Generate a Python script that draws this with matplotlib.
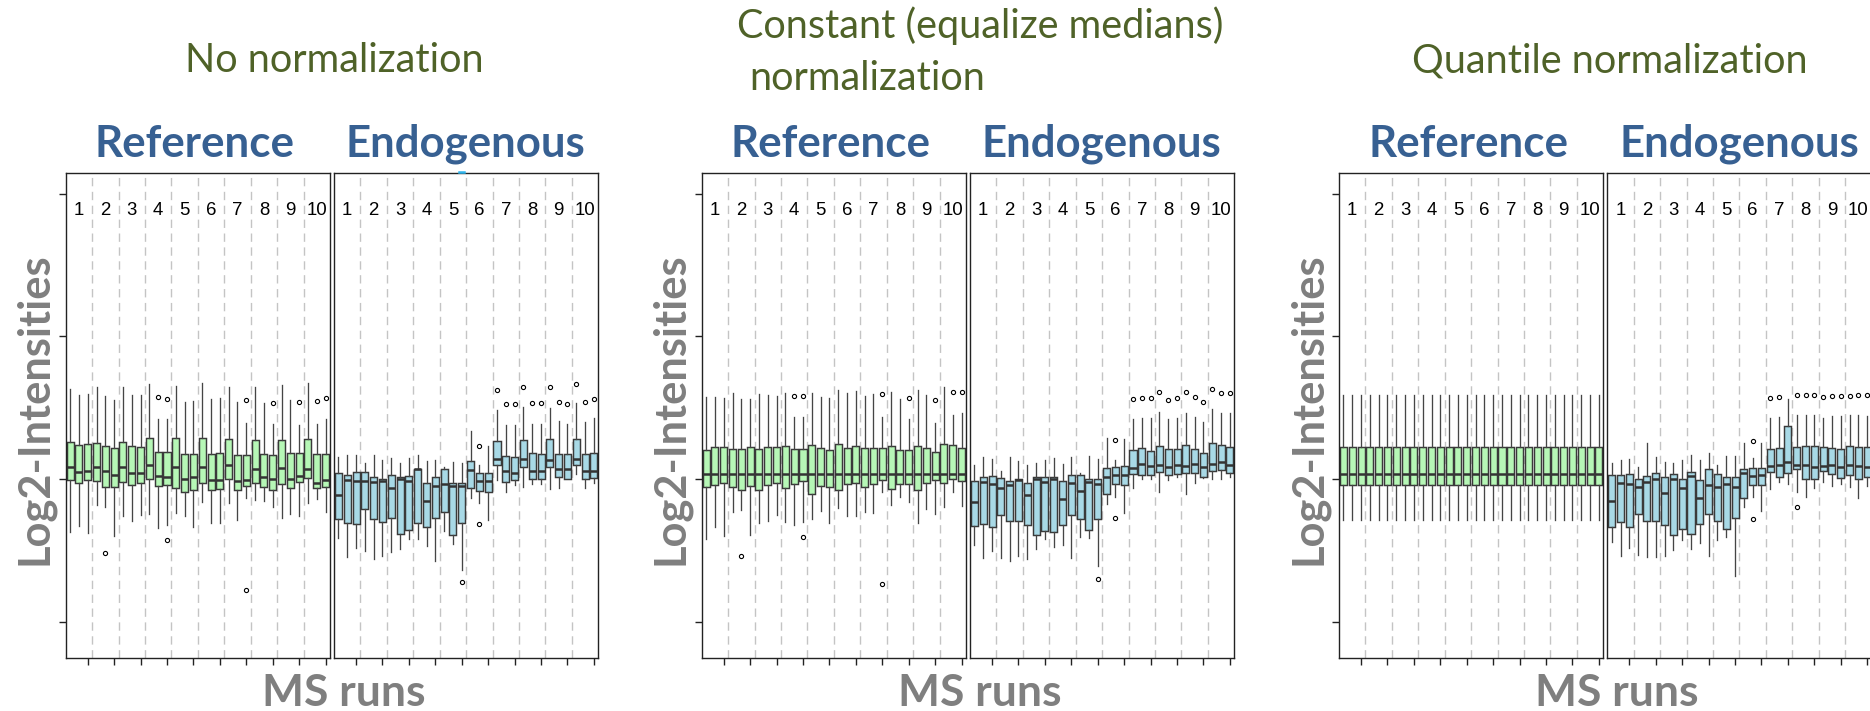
import matplotlib
matplotlib.use("Agg")
import matplotlib.pyplot as plt
from matplotlib.lines import Line2D

W, H = 1870, 711
fig = plt.figure(figsize=(W / 100, H / 100), dpi=100)

RUN_LABELS = [str(i) for i in range(1, 11)]
N_BOX = 30  # 10 MS runs x 3 features

PANEL_TITLES = ["No normalization", "Constant (equalize medians)\n normalization",
                "Quantile normalization"]
GROUPS = ["Reference", "Endogenous"]

# ---------------- No normalization ----------------
none_ref_hi = [23.15, 22.94, 22.97, 23.24, 22.92, 22.78, 23.24, 22.95, 22.94, 23.34,
               22.11, 22.10, 23.27, 22.72, 22.74, 23.36, 22.81, 22.86, 23.24, 22.72,
               21.98, 23.24, 22.66, 21.92, 23.31, 22.76, 21.91, 23.38, 21.95, 22.12]
none_ref_q3 = [21.29, 21.19, 21.25, 21.27, 21.17, 21.10, 21.31, 21.17, 21.14, 21.46,
               20.97, 20.94, 21.43, 20.90, 20.90, 21.46, 20.90, 20.93, 21.40, 20.85,
               20.86, 21.38, 20.90, 20.84, 21.38, 20.91, 20.91, 21.40, 20.90, 20.90]
none_ref_med = [20.44, 20.26, 20.31, 20.42, 20.29, 20.17, 20.45, 20.21, 20.22, 20.50,
                20.12, 20.09, 20.43, 20.02, 20.07, 20.42, 19.98, 19.98, 20.50, 19.95,
                19.98, 20.38, 20.07, 20.02, 20.40, 20.03, 20.13, 20.37, 19.88, 19.99]
none_ref_q1 = [19.98, 19.86, 19.98, 19.95, 19.72, 19.72, 19.90, 19.81, 19.88, 20.00,
               19.77, 19.81, 19.71, 19.55, 19.62, 19.86, 19.62, 19.65, 20.03, 19.62,
               19.76, 19.86, 19.73, 19.64, 19.84, 19.69, 19.90, 20.05, 19.71, 19.74]
none_ref_lo = [18.17, 18.38, 18.13, 19.09, 19.02, 18.02, 18.73, 18.55, 18.74, 18.79,
               18.31, 18.41, 18.82, 18.73, 18.34, 19.22, 18.48, 18.46, 19.16, 18.59,
               19.36, 19.27, 19.24, 19.04, 18.66, 18.79, 18.73, 19.18, 19.31, 18.86]
none_ref_out = {5: [17.41], 11: [22.87], 12: [22.80, 17.88], 21: [22.78, 16.13],
                24: [22.67], 27: [22.69], 29: [22.75], 30: [22.83]}

none_endo_hi = [20.79, 20.84, 20.84, 20.56, 20.86, 20.68, 20.76, 20.58, 20.73, 20.84,
                20.65, 20.66, 20.44, 20.62, 20.56, 21.68, 20.49, 21.18, 22.41, 21.91,
                21.89, 22.52, 21.94, 21.94, 22.50, 22.04, 21.94, 22.66, 22.02, 22.13]
none_endo_q3 = [20.21, 20.15, 20.26, 20.27, 20.07, 20.02, 20.16, 20.10, 20.13, 20.38,
                19.86, 20.07, 20.38, 19.88, 19.88, 20.64, 20.21, 20.24, 21.35, 20.83,
                20.77, 21.38, 20.93, 20.89, 21.40, 20.89, 20.87, 21.42, 20.90, 20.93]
none_endo_med = [19.45, 19.98, 19.94, 19.94, 19.90, 19.95, 19.71, 20.03, 19.95, 20.35,
                 19.23, 19.78, 19.83, 19.76, 19.77, 20.34, 19.94, 19.94, 20.72, 20.29,
                 20.24, 20.70, 20.30, 20.30, 20.68, 20.37, 20.38, 20.71, 20.29, 20.29]
none_endo_q1 = [18.60, 18.48, 18.44, 18.97, 18.62, 18.51, 18.65, 18.09, 18.24, 18.46,
                18.33, 18.65, 18.85, 18.04, 18.48, 19.70, 19.60, 19.57, 20.50, 19.90,
                19.97, 20.43, 20.02, 20.02, 20.44, 20.07, 20.02, 20.49, 20.02, 20.05]
none_endo_lo = [17.96, 17.29, 17.61, 17.48, 17.20, 17.31, 17.45, 17.57, 17.92, 17.91,
                17.66, 17.13, 18.20, 17.75, 16.83, 19.34, 19.17, 18.58, 19.99, 19.57,
                19.81, 19.72, 19.83, 19.85, 19.66, 19.71, 20.00, 20.20, 19.69, 19.87]
none_endo_out = {15: [16.40], 17: [21.17, 18.44], 19: [23.13], 20: [22.64], 21: [22.64],
                 22: [23.23], 23: [22.66], 24: [22.68], 25: [23.24], 26: [22.72],
                 27: [22.65], 28: [23.34], 29: [22.72], 30: [22.82]}

# ---------------- Constant (median) normalization ----------------
const_ref_hi = [22.89, 22.87, 22.83, 23.01, 22.81, 22.80, 22.97, 22.94, 22.92, 23.02,
                22.17, 22.19, 23.01, 22.89, 22.85, 23.11, 23.01, 23.08, 22.93, 22.97,
                22.17, 23.04, 22.80, 22.11, 23.11, 22.94, 21.98, 23.22, 22.26, 22.32]
const_ref_q3 = [21.04, 21.13, 21.13, 21.05, 21.07, 21.12, 21.05, 21.14, 21.12, 21.15,
                21.05, 21.06, 21.19, 21.10, 21.01, 21.24, 21.11, 21.15, 21.08, 21.10,
                21.08, 21.18, 21.03, 21.01, 21.18, 21.08, 20.97, 21.22, 21.20, 21.11]
const_ref_med = [20.19] * N_BOX
const_ref_q1 = [19.73, 19.80, 19.86, 19.73, 19.64, 19.77, 19.64, 19.80, 19.87, 19.70,
                19.84, 19.93, 19.49, 19.76, 19.74, 19.63, 19.83, 19.87, 19.72, 19.85,
                19.98, 19.67, 19.85, 19.83, 19.64, 19.86, 19.97, 19.87, 20.03, 19.94]
const_ref_lo = [17.91, 18.32, 18.02, 18.87, 18.93, 18.05, 18.48, 18.53, 18.74, 18.50,
                18.39, 18.52, 18.61, 18.90, 18.48, 19.01, 18.72, 18.72, 18.85, 18.83,
                19.56, 19.10, 19.37, 19.22, 18.46, 18.96, 18.80, 19.02, 19.57, 19.08]
const_ref_out = {5: [17.32], 11: [22.93], 12: [22.90, 17.98], 21: [22.98, 16.34],
                 24: [22.86], 27: [22.76], 29: [23.07], 30: [23.04]}

const_endo_hi = [20.52, 20.78, 20.71, 20.31, 20.78, 20.65, 20.49, 20.56, 20.68, 20.73,
                 20.54, 20.78, 20.23, 20.82, 20.70, 21.45, 20.69, 21.41, 22.11, 22.16,
                 22.16, 22.34, 22.10, 22.13, 22.31, 22.19, 21.99, 22.47, 22.32, 22.32]
const_endo_q3 = [19.95, 20.08, 20.13, 20.05, 19.95, 20.02, 19.88, 20.07, 20.10, 20.08,
                 19.93, 20.16, 20.14, 20.02, 20.00, 20.41, 20.42, 20.48, 21.04, 21.08,
                 20.98, 21.18, 21.07, 21.07, 21.19, 21.06, 20.93, 21.26, 21.21, 21.12]
const_endo_med = [19.20, 19.92, 19.83, 19.70, 19.79, 19.97, 19.45, 20.00, 19.91, 20.00,
                  19.30, 19.88, 19.58, 19.91, 19.85, 20.09, 20.15, 20.15, 20.40, 20.54,
                  20.47, 20.49, 20.45, 20.49, 20.47, 20.54, 20.45, 20.55, 20.61, 20.49]
const_endo_q1 = [18.36, 18.44, 18.32, 18.74, 18.53, 18.53, 18.39, 18.05, 18.20, 18.16,
                 18.40, 18.74, 18.61, 18.22, 18.61, 19.48, 19.83, 19.79, 20.20, 20.14,
                 20.17, 20.26, 20.14, 20.20, 20.23, 20.24, 20.09, 20.31, 20.34, 20.24]
const_endo_lo = [17.71, 17.24, 17.50, 17.26, 17.13, 17.33, 17.20, 17.56, 17.90, 17.62,
                 17.71, 17.24, 17.97, 17.94, 16.97, 19.13, 19.39, 18.82, 19.70, 20.02,
                 20.03, 19.55, 19.97, 20.09, 19.48, 19.88, 20.06, 20.02, 20.00, 20.08]
const_endo_out = {15: [16.51], 17: [21.39, 18.65], 19: [22.81], 20: [22.86], 21: [22.83],
                  22: [23.04], 23: [22.78], 24: [22.85], 25: [23.04], 26: [22.89],
                  27: [22.71], 28: [23.16], 29: [23.03], 30: [23.02]}

# ---------------- Quantile normalization ----------------
quant_ref_hi = [22.94] * N_BOX
quant_ref_q3 = [21.12] * N_BOX
quant_ref_med = [20.20] * N_BOX
quant_ref_q1 = [19.80] * N_BOX
quant_ref_lo = [18.58] * N_BOX
quant_ref_out = {}

quant_endo_hi = [20.56, 20.69, 20.71, 20.43, 21.26, 20.77, 20.59, 20.58, 20.68, 20.85,
                 20.68, 20.91, 20.51, 20.82, 20.82, 21.27, 20.76, 21.28, 22.15, 22.17,
                 22.81, 22.24, 22.25, 22.24, 22.16, 22.23, 22.20, 22.24, 22.25, 22.23]
quant_endo_q3 = [20.14, 20.15, 20.19, 20.00, 20.12, 20.21, 20.10, 20.19, 20.00, 20.26,
                 19.97, 20.38, 20.20, 20.10, 20.09, 20.35, 20.40, 20.40, 21.07, 21.11,
                 21.88, 21.12, 21.15, 21.15, 21.13, 21.08, 21.07, 21.15, 21.13, 21.14]
quant_endo_med = [19.25, 19.86, 19.83, 19.72, 19.92, 20.03, 19.52, 20.02, 19.71, 20.12,
                  19.34, 19.80, 19.73, 19.83, 19.74, 20.23, 20.12, 20.15, 20.47, 20.52,
                  20.62, 20.52, 20.49, 20.45, 20.48, 20.50, 20.44, 20.52, 20.47, 20.43]
quant_endo_q1 = [18.33, 18.50, 18.32, 18.79, 18.54, 18.55, 18.41, 18.05, 18.27, 18.10,
                 18.43, 18.79, 18.53, 18.26, 18.64, 19.35, 19.81, 19.79, 20.26, 20.10,
                 20.22, 20.36, 20.02, 20.02, 20.29, 20.19, 20.05, 20.16, 20.03, 20.10]
quant_endo_lo = [17.81, 17.33, 17.59, 17.36, 17.27, 17.27, 17.31, 17.52, 17.87, 17.56,
                 17.76, 17.32, 17.87, 17.99, 16.62, 19.03, 19.39, 18.89, 19.67, 19.90,
                 19.84, 19.57, 19.38, 19.69, 19.92, 19.77, 19.84, 19.74, 19.35, 19.78]
quant_endo_out = {17: [21.33, 18.61], 19: [22.85], 20: [22.87], 22: [22.95, 19.03],
                  23: [22.95], 24: [22.96], 25: [22.89], 26: [22.92], 27: [22.90],
                  28: [22.90], 29: [22.94], 30: [22.95]}

PANELS = [
    [(none_ref_lo, none_ref_q1, none_ref_med, none_ref_q3, none_ref_hi, none_ref_out),
     (none_endo_lo, none_endo_q1, none_endo_med, none_endo_q3, none_endo_hi, none_endo_out)],
    [(const_ref_lo, const_ref_q1, const_ref_med, const_ref_q3, const_ref_hi, const_ref_out),
     (const_endo_lo, const_endo_q1, const_endo_med, const_endo_q3, const_endo_hi, const_endo_out)],
    [(quant_ref_lo, quant_ref_q1, quant_ref_med, quant_ref_q3, quant_ref_hi, quant_ref_out),
     (quant_endo_lo, quant_endo_q1, quant_endo_med, quant_endo_q3, quant_endo_hi, quant_endo_out)],
]

# ---------------- layout (pixels) ----------------
PANEL_LEFT = [65.7, 701.7, 1339.0]
SUB_W = 264.3
SUB_GAP = 4.0
AX_TOP, AX_BOT = 172.7, 657.7
YLIM = (13.76, 30.73)
YTICKS = [15, 20, 25, 30]
NUM_Y = 29.42

GREEN = "#b6f7b6"
BLUE = "#a8d9e6"
EDGE = "#3a3a3a"
TITLE_COL = "#4f6228"
GROUP_COL = "#376092"
AXLAB_COL = "#7f7f7f"
BODY_FONT = ["Lato", "DejaVu Sans"]


def make_stats(lo, q1, med, q3, hi, out):
    stats = []
    for i in range(N_BOX):
        stats.append(dict(whislo=lo[i], q1=q1[i], med=med[i], q3=q3[i],
                          whishi=hi[i], fliers=out.get(i + 1, [])))
    return stats


def draw_sub(left, data, face, with_yticks):
    ax = fig.add_axes([left / W, 1 - AX_BOT / H, SUB_W / W, (AX_BOT - AX_TOP) / H])
    ax.set_xlim(0.5, N_BOX + 0.5)
    ax.set_ylim(*YLIM)
    for b in range(1, 10):
        ax.axvline(3 * b + 0.5, color="#c4c4c4", lw=1.0, ls=(0, (6, 4)), zorder=0)
    ax.bxp(make_stats(*data), positions=range(1, N_BOX + 1), widths=0.8,
           patch_artist=True, showcaps=False,
           boxprops=dict(facecolor=face, edgecolor=EDGE, linewidth=1.05),
           medianprops=dict(color="#333333", linewidth=1.8),
           whiskerprops=dict(color="#454545", linewidth=0.95),
           flierprops=dict(marker="o", markersize=3.0, markerfacecolor="none",
                           markeredgecolor="black", markeredgewidth=0.8))
    ax.set_xticks([3 * k for k in range(1, 11)])
    ax.set_xticklabels([])
    if with_yticks:
        ax.set_yticks(YTICKS)
        ax.set_yticklabels([])
        ax.tick_params(axis="y", length=5, width=1, color="#222222")
    else:
        ax.set_yticks([])
    ax.tick_params(axis="x", length=5, width=1, color="#222222")
    for s in ax.spines.values():
        s.set_color("#222222")
        s.set_linewidth(1.0)
    for k, lab in enumerate(RUN_LABELS):
        ax.text(3 * k + 2, NUM_Y, lab, ha="center", va="center", fontsize=13.4,
                family="Liberation Sans", color="black")
    return ax


for p, left in enumerate(PANEL_LEFT):
    draw_sub(left, PANELS[p][0], GREEN, True)
    draw_sub(left + SUB_W + SUB_GAP, PANELS[p][1], BLUE, False)

# small cyan mark sitting on the top edge of the first Endogenous frame
fig.add_artist(Line2D([459 / W, 463.5 / W], [1 - 171.5 / H, 1 - 171.5 / H],
                      color="#2fb4ec", lw=1.8, transform=fig.transFigure))

renderer = fig.canvas.get_renderer()


def fitted(x, y, s, length, size, rotation=0, **kw):
    t = fig.text(x / W, 1 - y / H, s, fontsize=size, rotation=rotation,
                 rotation_mode="anchor", **kw)
    bb = t.get_window_extent(renderer=renderer)
    cur = bb.height if rotation else bb.width
    t.set_fontsize(size * length / cur)
    return t


# panel headings, all in one size
head = fitted(334, 72, PANEL_TITLES[0], 298, 26, ha="center", va="baseline",
              color=TITLE_COL, family=BODY_FONT)
hsize = head.get_fontsize()
line1, line2 = PANEL_TITLES[1].split("\n")
fig.text(737 / W, 1 - 38 / H, line1, fontsize=hsize, ha="left", va="baseline",
         color=TITLE_COL, family=BODY_FONT)
fig.text(749 / W, 1 - 90 / H, line2.strip(), fontsize=hsize, ha="left",
         va="baseline", color=TITLE_COL, family=BODY_FONT)
fig.text(1610 / W, 1 - 72 / H, PANEL_TITLES[2], fontsize=hsize, ha="center",
         va="baseline", color=TITLE_COL, family=BODY_FONT)

for left in PANEL_LEFT:
    fitted(left + 129, 157, GROUPS[0], 200, 28, ha="center", va="baseline",
           color=GROUP_COL, weight="bold", family=BODY_FONT)
    fitted(left + 400, 157, GROUPS[1], 240, 28, ha="center", va="baseline",
           color=GROUP_COL, weight="bold", family=BODY_FONT)
    fitted(left + 196.3, 706, "MS runs", 163, 28, ha="left", va="baseline",
           color=AXLAB_COL, weight="bold", family=BODY_FONT)
    fitted(left - 18.4, 409, "Log2-Intensities", 312, 28, rotation=90,
           ha="center", va="baseline", color=AXLAB_COL, weight="bold",
           family=BODY_FONT)

fig.savefig("out.png", dpi=100, facecolor="white")
